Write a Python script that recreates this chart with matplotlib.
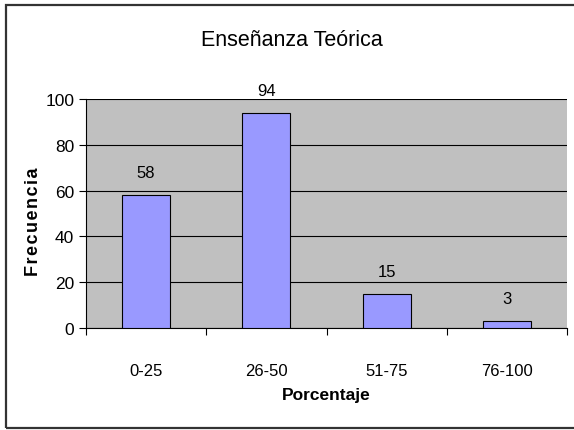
import matplotlib.pyplot as plt
import numpy as np
from matplotlib.patches import Rectangle

# Datos
categorias = ['0-25', '26-50', '51-75', '76-100']
frecuencias = [58, 94, 15, 3]
yticks = [0, 20, 40, 60, 80, 100]

plt.rcParams['font.family'] = ['Liberation Sans', 'DejaVu Sans']

fig = plt.figure(figsize=(5.74, 4.31), dpi=100)
ax = fig.add_axes([86 / 574, 102 / 431, 481 / 574, 229 / 431])

x = np.arange(len(categorias))
ax.bar(x, frecuencias, width=0.4, color='#9999FF', edgecolor='black', linewidth=0.8, zorder=3)

# Etiquetas de valor
for xi, v in zip(x, frecuencias):
    ax.annotate(str(v), (xi, v), xytext=(0, 16), textcoords='offset points',
                ha='center', va='center', fontsize=12)

ax.set_facecolor('#C0C0C0')
ax.set_xlim(-0.5, len(categorias) - 0.5)
ax.set_ylim(0, 100)
ax.set_yticks(yticks)
ax.tick_params(axis='y', labelsize=12.5, length=5, width=0.8, direction='out')
ax.yaxis.grid(True, color='black', linewidth=0.8, zorder=1)
ax.set_axisbelow(True)

# Ticks del eje x en los limites de categoria
ax.set_xticks(np.arange(len(categorias) + 1) - 0.5)
ax.set_xticklabels([])
ax.set_xticks(x, minor=True)
ax.set_xticklabels(categorias, minor=True, fontsize=12)
ax.tick_params(axis='x', which='major', length=5, width=0.8, direction='out')
ax.tick_params(axis='x', which='minor', length=0, pad=25)

for s in ['top', 'right']:
    ax.spines[s].set_visible(False)
ax.spines['left'].set_linewidth(0.8)
ax.spines['bottom'].set_linewidth(0.8)

ax.set_xlabel('Porcentaje', fontsize=12.5, fontweight='bold', labelpad=7)
ax.set_ylabel('\u200a'.join('Frecuencia'), fontsize=13, fontweight='bold')
ax.yaxis.set_label_coords(-0.092, 0.47)

fig.text(292 / 574, 1 - 40 / 431, 'Enseñanza Teórica', ha='center', va='center', fontsize=15.5)

# Borde del grafico
fig.patches.append(Rectangle((5.5 / 574, 2.5 / 431), 1.0, 423 / 431, transform=fig.transFigure,
                             fill=False, edgecolor='#333333', linewidth=1.6))

plt.savefig('out.png', dpi=100)
